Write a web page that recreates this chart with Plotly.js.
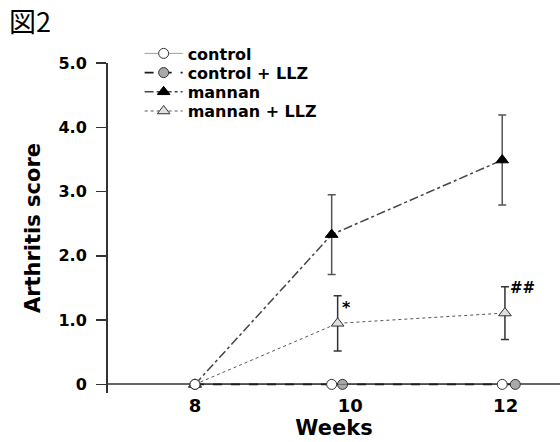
<!DOCTYPE html>
<html><head><meta charset="utf-8">
<script src="https://cdn.plot.ly/plotly-3.0.1.min.js"></script>
<style>html,body{margin:0;padding:0;background:#fff}#chart{width:560px;height:442px}</style>
</head><body><div id="chart"></div>
<script>
// ---- data ----
const weeks = [8, 10, 12];
const tickLabels = ['8', '10', '12'];
const seriesNames = ['control', 'control + LLZ', 'mannan', 'mannan + LLZ'];
const controlScore = [0, 0, 0];
const controlLLZScore = [0, 0, 0];
const mannanScore = [0, 2.33, 3.49];
const mannanErr = [0, 0.62, 0.70];
const mannanLLZScore = [0, 0.95, 1.11];
const mannanLLZErr = [0, 0.43, 0.41];
const yTickVals = [0, 1, 2, 3, 4, 5];
const yTickText = ['0', '1.0', '2.0', '3.0', '4.0', '5.0'];
const sigMarks = ['*', '##'];

// horizontal jitter used in the original figure so markers don't overlap
const jitter = {
  control:   [0, -0.24, -0.044],
  controlLLZ:[0, -0.10, 0.124],
  mannan:    [0, -0.24, -0.044],
  mannanLLZ: [0, -0.163, -0.009]
};
const jx = (k) => weeks.map((w, i) => w + jitter[k][i]);

const F = 'DejaVu Sans, Arial, sans-serif';
const legendRows = [1.0288, 0.9706, 0.9124, 0.8542];

const traces = [
  {name: seriesNames[1], x: jx('controlLLZ'), y: controlLLZScore, mode: 'lines+markers',
   line: {color: '#1a1a1a', width: 1.6, dash: 'dash'},
   marker: {symbol: 'circle', size: 10, color: '#a9a9a9', line: {color: '#333', width: 1}},
   legend: 'legend2'},
  {name: seriesNames[2], x: jx('mannan'), y: mannanScore, mode: 'lines+markers',
   line: {color: '#444', width: 1.5, dash: 'dashdot'},
   marker: {symbol: 'triangle-up', size: 11, color: '#000', line: {color: '#000', width: 1}},
   error_y: {type: 'data', array: mannanErr, color: '#555', thickness: 1.5, width: 4},
   legend: 'legend3'},
  {name: seriesNames[3], x: jx('mannanLLZ'), y: mannanLLZScore, mode: 'lines+markers',
   line: {color: '#555', width: 1, dash: 'dot'},
   marker: {symbol: 'triangle-up', size: 11, color: '#e0e0e0', line: {color: '#333', width: 1}},
   error_y: {type: 'data', array: mannanLLZErr, color: '#333', thickness: 1.5, width: 4},
   legend: 'legend4'},
  {name: seriesNames[0], x: jx('control'), y: controlScore, mode: 'lines+markers',
   line: {color: 'rgba(40,40,40,0.45)', width: 1},
   marker: {symbol: 'circle', size: 10, color: '#fff', line: {color: '#333', width: 1}},
   legend: 'legend'}
];

function leg(y) {
  return {x: 0.07, xanchor: 'left', y: y, yanchor: 'middle', bgcolor: 'rgba(0,0,0,0)',
          font: {family: F, size: 16, color: '#000', weight: 'bold'}, itemwidth: 38,
          borderwidth: 0, tracegroupgap: 0};
}

const layout = {
  width: 560, height: 442,
  margin: {l: 108, r: 0, t: 63, b: 49},
  paper_bgcolor: '#fff', plot_bgcolor: '#fff',
  title: {text: '図2', xref: 'container', yref: 'container', x: 0.016, xanchor: 'left',
          y: 0.95, yanchor: 'middle', font: {family: 'Noto Sans CJK JP', size: 27, color: '#000'}},
  showlegend: true,
  legend: leg(legendRows[0]), legend2: leg(legendRows[1]),
  legend3: leg(legendRows[2]), legend4: leg(legendRows[3]),
  xaxis: {range: [6.88, 12.70], tickvals: weeks, ticktext: tickLabels, ticks: '',
          showline: false, showgrid: false, zeroline: false,
          tickfont: {family: F, size: 18, color: '#000', weight: 'bold'},
          title: {text: 'Weeks', font: {family: F, size: 21, color: '#000', weight: 'bold'}, standoff: 2}},
  yaxis: {range: [-0.134, 5.0], tickvals: yTickVals, ticktext: yTickText,
          ticks: 'outside', ticklen: 10, tickwidth: 1.5, tickcolor: '#333',
          showline: true, linecolor: '#333', linewidth: 2, showgrid: false,
          zeroline: true, zerolinecolor: '#666', zerolinewidth: 2,
          ticklabelstandoff: 6,
          tickfont: {family: F, size: 16, color: '#000', weight: 'bold'},
          title: {text: 'Arthritis score', font: {family: F, size: 21, color: '#000', weight: 'bold'}, standoff: 12}},
  annotations: [
    {x: jx('mannanLLZ')[1], y: mannanLLZScore[1], text: sigMarks[0], showarrow: false,
     xshift: 9, yshift: 16, font: {family: F, size: 16, color: '#000', weight: 'bold'}},
    {x: jx('mannanLLZ')[2], y: mannanLLZScore[2], text: sigMarks[1], showarrow: false,
     xshift: 18, yshift: 25, font: {family: F, size: 15, color: '#000', weight: 'bold'}}
  ]
};

Plotly.newPlot('chart', traces, layout, {displayModeBar: false, staticPlot: true});
</script></body></html>
